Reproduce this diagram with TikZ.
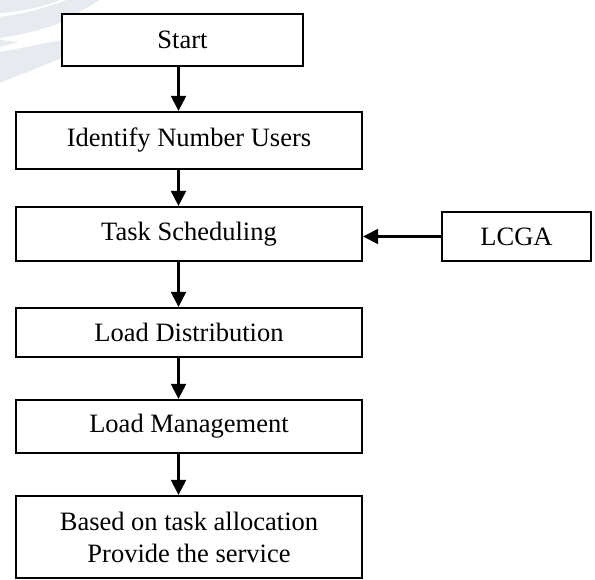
\documentclass[tikz,border=0pt]{standalone}
\usepackage{fontspec}
\setmainfont{Liberation Serif}
\usetikzlibrary{arrows.meta}
\definecolor{wmark}{HTML}{E7EAEE}
\tikzset{
  box/.style={draw=black, line width=2.2pt, fill=white, inner sep=0pt,
    align=center, font=\fontsize{26.5}{32}\selectfont},
  flow/.style={line width=2.2pt, -{Triangle[width=15pt,length=15pt]}},
}
\begin{document}
\begin{tikzpicture}[x=1pt,y=-1pt]
\useasboundingbox (0,0) rectangle (595,580);

% faint logo shapes in the upper left corner
\fill[wmark] (0,0) -- (60,0) .. controls (40,8) and (18,12) .. (0,13) -- cycle;
\fill[wmark] (0,17) .. controls (22,14) and (46,8) .. (67,0) -- (100,0)
  -- (62,22) .. controls (42,30) and (20,35) .. (0,38) -- cycle;
\fill[wmark] (0,40) -- (18,42) -- (0,47) -- cycle;
\fill[wmark] (0,52) -- (62,40) -- (62,58) -- (0,83) -- cycle;

% process steps
\node[box, minimum width=241pt, minimum height=52pt] (start) at (182.5,40) {Start};
\node[box, minimum width=346pt, minimum height=57pt] (ident) at (189,140.5) {Identify Number Users};
\node[box, minimum width=346pt, minimum height=54pt] (task) at (189,234) {Task Scheduling};
\node[box, minimum width=149pt, minimum height=49pt] (lcga) at (516.5,236.5) {LCGA};
\node[box, minimum width=346pt, minimum height=49pt] (dist) at (189,332.5) {Load Distribution};
\node[box, minimum width=346pt, minimum height=53pt] (mgmt) at (189,426.5) {Load Management};
\node[box, minimum width=346pt, minimum height=82pt] (serv) at (189,537) {Based on task allocation\\Provide the service};

% vertical flow line
\coordinate (ax) at (178.5,0);

\draw[flow] (start.south -| ax) -- (ident.north -| ax);
\draw[flow] (ident.south -| ax) -- (task.north -| ax);
\draw[flow] (task.south -| ax) -- (dist.north -| ax);
\draw[flow] (dist.south -| ax) -- (mgmt.north -| ax);
\draw[flow] (mgmt.south -| ax) -- (serv.north -| ax);
\draw[flow] (lcga.west) -- (lcga.west -| task.east);
\end{tikzpicture}
\end{document}
